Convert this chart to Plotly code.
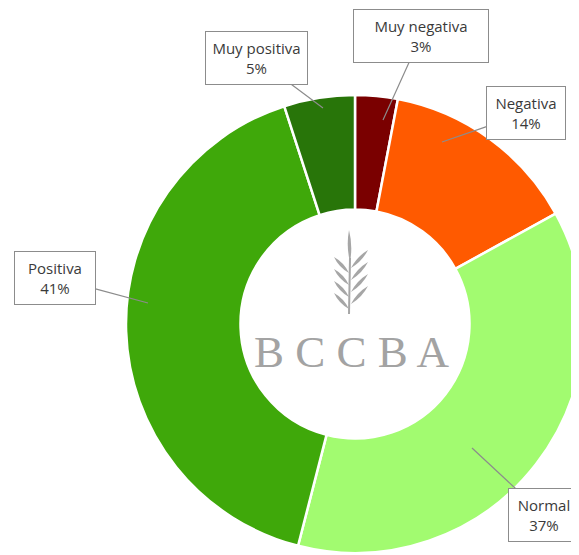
import plotly.graph_objects as go

# data
labels = ["Muy negativa", "Negativa", "Normal", "Positiva", "Muy positiva"]
values = [3, 14, 37, 41, 5]
colors = ["#7a0000", "#ff5a00", "#a2fb70", "#3fa80a", "#287509"]

W, H = 579, 555
OFF = 8  # page body margin, positions below are window pixels


def px(x):
    return (x - OFF) / W


def py(y):
    return 1 - (y - OFF) / H


def leaf(bx, by, tx, ty, w):
    # lens shaped leaf from base to tip, in pixel coords
    mx, my = (bx + tx) / 2, (by + ty) / 2
    dx, dy = tx - bx, ty - by
    ln = (dx ** 2 + dy ** 2) ** 0.5
    nx, ny = -dy / ln * w, dx / ln * w
    return (f"M {px(bx)},{py(by)} Q {px(mx + nx)},{py(my + ny)} {px(tx)},{py(ty)} "
            f"Q {px(mx - nx)},{py(my - ny)} {px(bx)},{py(by)} Z")


# donut centre and radius (window pixels)
cx0, cy0, R = 355, 324, 229

fig = go.Figure()
fig.add_trace(go.Pie(
    labels=labels, values=values, sort=False, direction='clockwise', rotation=0,
    hole=0.5, marker=dict(colors=colors, line=dict(color='white', width=2.5)),
    textinfo='none', showlegend=False,
    domain=dict(x=[px(cx0 - R), px(cx0 + R)], y=[py(cy0 + R), py(cy0 - R)]),
))

# callout labels: (tip x, tip y, box centre x, box centre y, width)
callouts = [
    ("Muy negativa", 3, 383, 120, 421, 36, 124),
    ("Negativa", 14, 442, 142, 526, 113, 68),
    ("Normal", 37, 472, 448, 544, 515, 60),
    ("Positiva", 41, 148, 303, 55, 278, 70),
    ("Muy positiva", 5, 323, 108, 256, 58, 91),
]
for name, pct, tx, ty, cx, cy, w in callouts:
    fig.add_annotation(
        x=px(tx), y=py(ty), xref='paper', yref='paper',
        ax=cx - tx, ay=cy - ty,
        text=f"{name}<br>{pct}%", showarrow=True, arrowhead=0,
        arrowwidth=1.2, arrowcolor='#8c8c8c',
        bgcolor='white', bordercolor='#8c8c8c', borderwidth=1, borderpad=5,
        width=w, height=42, align='center',
        font=dict(family='Open Sans', size=15, color='#3a3a3a'),
    )

# BCCBA logo in the hole
leaf_col = '#a6a6a6'
shapes = [dict(type='path', path=leaf(350, 262, 349, 230, 3.5),
               fillcolor=leaf_col, line=dict(width=0), xref='paper', yref='paper')]
for i in range(4):
    by = 273 + 12 * i
    shapes.append(dict(type='path', path=leaf(349, by, 334, by - 16, 3.5),
                       fillcolor=leaf_col, line=dict(width=0), xref='paper', yref='paper'))
    by = 268 + 12 * i
    shapes.append(dict(type='path', path=leaf(351, by, 368, by - 18, 3.5),
                       fillcolor=leaf_col, line=dict(width=0), xref='paper', yref='paper'))
shapes.append(dict(type='line', x0=px(350), y0=py(258), x1=px(349), y1=py(314),
                   line=dict(color=leaf_col, width=2), xref='paper', yref='paper'))

fig.add_annotation(
    x=px(352), y=py(352), xref='paper', yref='paper', showarrow=False,
    text="B C C B A", font=dict(family='Liberation Serif', size=45, color='#a3a3a3'),
)

fig.update_layout(
    width=W, height=H, margin=dict(l=0, r=0, t=0, b=0),
    paper_bgcolor='white', plot_bgcolor='white', shapes=shapes,
)

fig.write_html("out.html")
